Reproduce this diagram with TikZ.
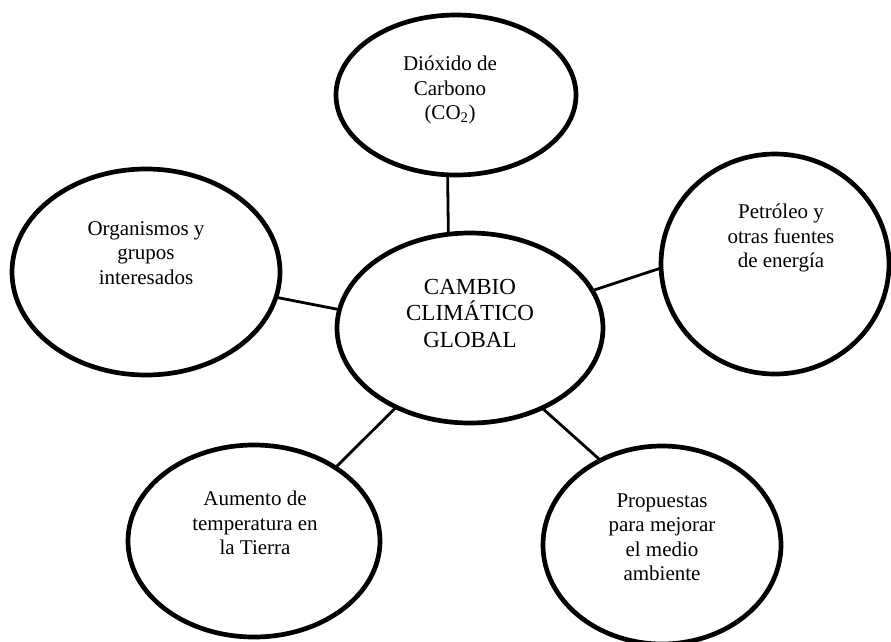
\documentclass[tikz,border=0pt]{standalone}
\usepackage{fontspec}
\setmainfont{Liberation Serif}
\usetikzlibrary{shapes.geometric}

\tikzset{
  bubble/.style={ellipse, draw=black, line width=4.7pt, inner sep=0pt, outer sep=0pt, fill=white},
  link/.style={draw=black, line width=2.8pt},
  lbl/.style={align=center, inner sep=0pt, font=\fontsize{21}{24.5}\selectfont},
  mainlbl/.style={align=center, inner sep=0pt, font=\fontsize{23}{26.5}\selectfont}
}

\begin{document}
\begin{tikzpicture}[x=1pt, y=-1pt]
  \useasboundingbox (0,0) rectangle (891,641);
  \fill[white] (0,0) rectangle (891,641);

  % ellipses
  \node[bubble, minimum width=266pt, minimum height=190pt] (ctr) at (470,328) {};
  \node[bubble, minimum width=240pt, minimum height=160pt] (co2) at (456,95) {};
  \node[bubble, minimum width=268pt, minimum height=206pt] (org) at (146,272) {};
  \node[bubble, minimum width=228pt, minimum height=220pt] (oil) at (775,264) {};
  \node[bubble, minimum width=252pt, minimum height=192pt] (temp) at (254,541) {};
  \node[bubble, minimum width=238pt, minimum height=198pt] (prop) at (662,545) {};

  % connectors
  \draw[link] (co2.-96.6) -- (ctr.103.6);
  \draw[link] (org.-11.1) -- (ctr.172.2);
  \draw[link] (ctr.17) -- (oil.-178.5);
  \draw[link] (ctr.-133.9) -- (temp.42.1);
  \draw[link] (ctr.-48.3) -- (prop.126.8);

  % labels
  \node[mainlbl] (tctr) at (470,313) {CAMBIO\\CLIMÁTICO\\GLOBAL};
  \node[lbl] (tco2) at (450,90) {Dióxido de\\Carbono\\(CO\textsubscript{2})};
  \node[lbl] (torg) at (146,253) {Organismos y\\grupos\\interesados};
  \node[lbl] (toil) at (781,238) {Petróleo y\\otras fuentes\\de energía};
  \node[lbl] (ttemp) at (255,523) {Aumento de\\temperatura en\\la Tierra};
  \node[lbl] (tprop) at (662,537) {Propuestas\\para mejorar\\el medio\\ambiente};
\end{tikzpicture}
\end{document}
